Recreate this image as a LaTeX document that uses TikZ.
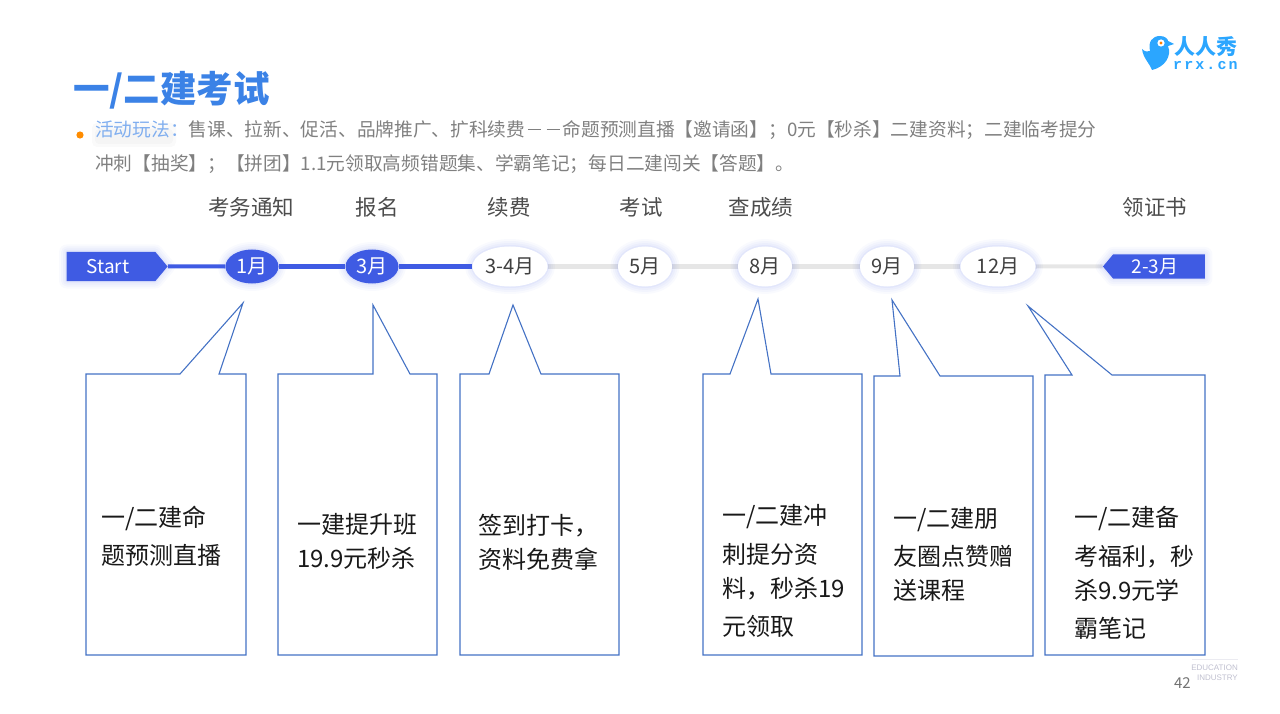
\documentclass[tikz,border=0pt]{standalone}
\usepackage{fontspec}
\usepackage{xcolor}
\setmainfont{Noto Sans CJK SC}
\newfontfamily\logofont[LetterSpace=14]{Liberation Mono}
\newfontfamily\footfont{Liberation Sans}
\usetikzlibrary{arrows.meta,positioning,shapes.geometric,shapes.symbols,backgrounds,calc}
\definecolor{tlblue}{HTML}{3F5BE3}
\definecolor{tlgray}{HTML}{E6E6E6}
\definecolor{callblue}{HTML}{4472C4}
\definecolor{titleblue}{HTML}{3B82E6}
\definecolor{logoblue}{HTML}{2BA6FF}
\newcommand{\fs}[1]{\fontsize{#1}{#1}\selectfont}
\newcommand{\wdash}{\makebox[1em]{\rule[0.33em]{0.72em}{1.2pt}}}
\newcommand{\wcomma}{\symbol{"FF0C}}
\newcommand{\wsemi}{\symbol{"FF1B}}
\newcommand{\wcolon}{\symbol{"FF1A}}

\begin{document}
\begin{tikzpicture}[
  x=1pt, y=-1pt,
  glow/.style={preaction={draw=tlblue, opacity=.03, line width=15pt, line join=round},
               preaction={draw=tlblue, opacity=.035, line width=11pt, line join=round},
               preaction={draw=tlblue, opacity=.04, line width=7pt, line join=round},
               preaction={draw=tlblue, opacity=.06, line width=3pt, line join=round}},
  month/.style={ellipse, glow, fill=white, text=black!75, inner sep=0pt,
                minimum width=54pt, minimum height=40pt, font=\fs{20}},
  done/.style={month, fill=tlblue, text=white, minimum height=34pt},
  wide/.style={month, minimum width=75pt},
  flag/.style={signal, glow, fill=tlblue, text=white, inner sep=0pt, font=\fs{19}},
  stage/.style={font=\fs{21.5}, text=black!70},
  doneline/.style={draw=tlblue, line width=4pt},
  todoline/.style={draw=tlgray, line width=4pt},
  call/.style={draw=callblue, line width=1.1pt, miter limit=20},
  calltext/.style={anchor=west, align=left, inner sep=0pt, font=\fontsize{24}{34}\selectfont, text=black!90}
]
\useasboundingbox (0,0) rectangle (1280,714);

% Heading
\node[anchor=west, inner sep=0pt, font=\fs{36.5}\bfseries, text=titleblue] (title) at (73,90) {一/二建考试};
\fill[orange!90!yellow] (80,135) circle (3.6pt);
\fill[black, opacity=.018, rounded corners=5pt] (92,123) rectangle (176,147);
\fill[black, opacity=.018, rounded corners=4pt] (95,129) rectangle (173,144);
\node[anchor=west, inner sep=0pt, align=left, font=\fontsize{18.7}{34}\selectfont, text=black!50] (intro) at (95,147)
  {\textcolor{titleblue!65}{活动玩法\wcolon}售课、拉新、促活、品牌推广、扩科续费\wdash\wdash 命题预测直播【邀请函】\wsemi 0元【秒杀】二建资料\wsemi 二建临考提分\\
   冲刺【抽奖】\wsemi 【拼团】1.1元领取高频错题集、学霸笔记\wsemi 每日二建闯关【答题】。};

% Timeline
\node[flag, signal to=east, signal pointer angle=100, minimum width=101pt, minimum height=29pt] (start) at (111,266.5) {\hspace*{-6pt}Start};
\node[done, minimum width=53pt] (jan) at (252,266.5) {1月};
\node[done, minimum width=53pt] (mar) at (372,266.5) {3月};
\node[wide] (marapr) at (510,266.5) {3-4月};
\node[month] (may) at (645,266.5) {5月};
\node[month] (aug) at (765,266.5) {8月};
\node[month] (sep) at (887,266.5) {9月};
\node[wide] (dec) at (998,266.5) {12月};
\node[flag, signal to=west, signal pointer angle=100, minimum width=102pt, minimum height=24pt] (end) at (1159,266.5) {2-3月\hspace*{8pt}};

\begin{scope}[on background layer]
\draw[doneline] (start) -- (jan);
\draw[doneline] (jan) -- (mar);
\draw[doneline] (mar) -- (marapr);
\draw[todoline] (marapr) -- (may);
\draw[todoline] (may) -- (aug);
\draw[todoline] (aug) -- (sep);
\draw[todoline] (sep) -- (dec);
\draw[todoline] (dec) -- (end);
\end{scope}

% Stage names
\node[stage] (notice) at (251,207) {考务通知};
\node[stage] (signup) at (377,207) {报名};
\node[stage] (renew) at (509,207) {续费};
\node[stage] (exam) at (641,207) {考试};
\node[stage] (score) at (761,207) {查成绩};
\node[stage] (cert) at (1155,207) {领证书};

% Callouts
\draw[call] (86,374) -- (180,374) -- (243,303) -- (219,374) -- (246,374) -- (246,655) -- (86,655) -- cycle;
\draw[call] (278,374) -- (373,374) -- (373,305) -- (410,374) -- (437,374) -- (437,655) -- (278,655) -- cycle;
\draw[call] (460,374) -- (489,374) -- (513,305) -- (541,374) -- (619,374) -- (619,655) -- (460,655) -- cycle;
\draw[call] (703,374) -- (730,374) -- (758,299) -- (771,374) -- (862,374) -- (862,655) -- (703,655) -- cycle;
\draw[call] (874,376) -- (900,376) -- (892,300) -- (940,376) -- (1033,376) -- (1033,656) -- (874,656) -- cycle;
\draw[call] (1045,375) -- (1072,375) -- (1028,306) -- (1112,375) -- (1205,375) -- (1205,655) -- (1045,655) -- cycle;

\node[calltext] (calla) at (101,536) {一/二建命\\[4pt]题预测直播};
\node[calltext] (callb) at (297,541) {一建提升班\\19.9元秒杀};
\node[calltext] (callc) at (478,542) {签到打卡\wcomma\\资料免费拿};
\node[calltext] (calld) at (722,571) {一/二建冲\\[5pt]刺提分资\\料\wcomma 秒杀19\\[4pt]元领取};
\node[calltext] (calle) at (893,554) {一/二建朋\\[4pt]友圈点赞赠\\送课程};
\node[calltext] (callf) at (1074,573) {一/二建备\\[5pt]考福利\wcomma 秒\\杀9.9元学\\[4pt]霸笔记};

% Logo
\fill[logoblue] (1160,36) .. controls (1165,36) and (1168,39) .. (1168,41) -- (1174,44) -- (1168,46)
  .. controls (1172,56) and (1165,67) .. (1152,70) .. controls (1150,64) and (1143,58) .. (1142,49)
  .. controls (1145,52) and (1148,52) .. (1150,51) .. controls (1148,42) and (1152,36) .. (1160,36) -- cycle;
\fill[white] (1161,43) circle (3.6pt);
\fill[orange] (1161,43) circle (1.7pt);
\node[anchor=west, inner sep=0pt, font=\fs{21}\bfseries, text=logoblue] (brand) at (1174,47) {人人秀};
\node[anchor=west, inner sep=0pt, font=\logofont\fs{15}\bfseries, text=logoblue] (site) at (1173,66) {rrx.cn};

% Footer
\draw[blue!30!black!8, line width=1pt] (1192,659) -- (1238,659);
\node[anchor=east, inner sep=0pt, align=right, font=\footfont\fontsize{8}{10}\selectfont, text=blue!25!black!25] (tag) at (1238,673) {EDUCATION\\INDUSTRY};
\node[anchor=east, inner sep=0pt, font=\fs{15}, text=black!55] (page) at (1191,683) {42};
\end{tikzpicture}
\end{document}
